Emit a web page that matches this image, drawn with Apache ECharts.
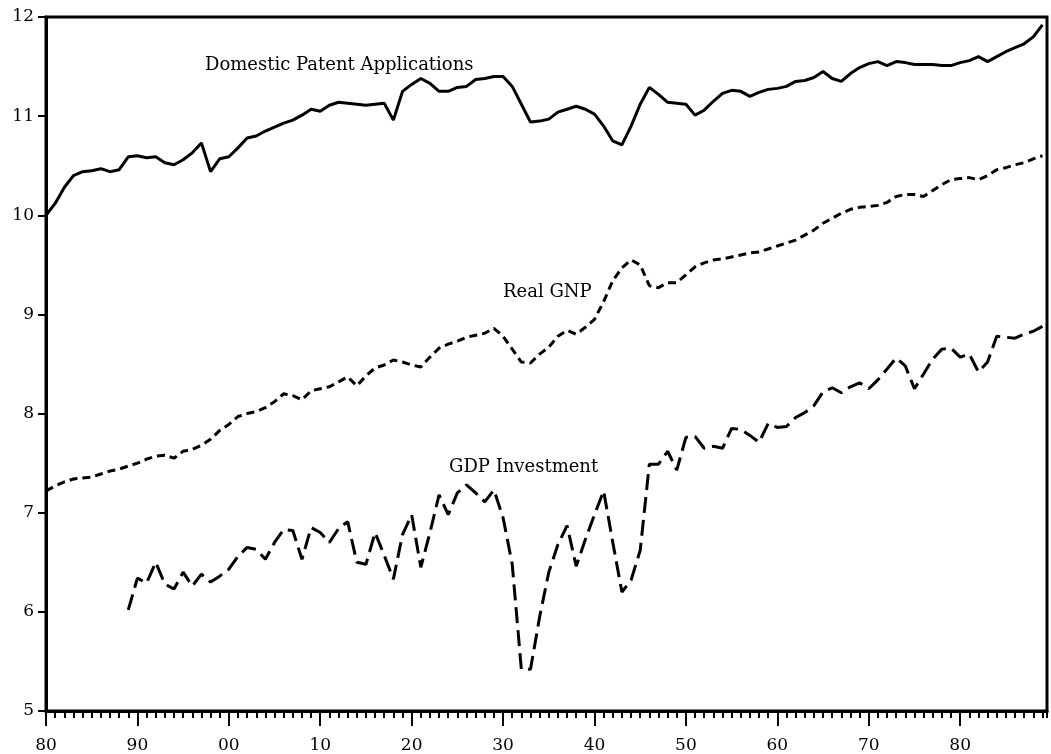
<!DOCTYPE html>
<html>
<head>
<meta charset="utf-8">
<script src="https://cdn.jsdelivr.net/npm/echarts@6/dist/echarts.min.js"></script>
<style>
  html, body { margin: 0; padding: 0; background: #fff; }
  #chart { width: 1051px; height: 754px; }
</style>
</head>
<body>
<div id="chart"></div>
<script>
// years 1880..1989
var years = [];
for (var y = 1880; y <= 1989; y++) years.push(y);

// log domestic patent applications, 1880-1989
var patents = [
  10.00, 10.12, 10.28, 10.40, 10.44, 10.45, 10.47, 10.44, 10.46, 10.59,
  10.60, 10.58, 10.59, 10.53, 10.51, 10.56, 10.63, 10.73, 10.44, 10.57,
  10.59, 10.68, 10.78, 10.80, 10.85, 10.89, 10.93, 10.96, 11.01, 11.07,
  11.05, 11.11, 11.14, 11.13, 11.12, 11.11, 11.12, 11.13, 10.96, 11.25,
  11.32, 11.38, 11.33, 11.25, 11.25, 11.29, 11.30, 11.37, 11.38, 11.40,
  11.40, 11.30, 11.12, 10.94, 10.95, 10.97, 11.04, 11.07, 11.10, 11.07,
  11.02, 10.90, 10.75, 10.71, 10.90, 11.12, 11.29, 11.22, 11.14, 11.13,
  11.12, 11.01, 11.06, 11.15, 11.23, 11.26, 11.25, 11.20, 11.24, 11.27,
  11.28, 11.30, 11.35, 11.36, 11.39, 11.45, 11.38, 11.35, 11.43, 11.49,
  11.53, 11.55, 11.51, 11.55, 11.54, 11.52, 11.52, 11.52, 11.51, 11.51,
  11.54, 11.56, 11.60, 11.55, 11.60, 11.65, 11.69, 11.73, 11.80, 11.92
];

// log real GNP, 1880-1989
var realGnp = [
  7.22, 7.27, 7.31, 7.34, 7.35, 7.36, 7.39, 7.42, 7.44, 7.47,
  7.50, 7.54, 7.57, 7.58, 7.55, 7.62, 7.64, 7.68, 7.74, 7.83,
  7.89, 7.97, 8.00, 8.02, 8.06, 8.12, 8.20, 8.18, 8.14, 8.23,
  8.25, 8.27, 8.32, 8.37, 8.28, 8.38, 8.46, 8.49, 8.54, 8.52,
  8.49, 8.47, 8.57, 8.66, 8.70, 8.73, 8.77, 8.79, 8.81, 8.86,
  8.78, 8.65, 8.52, 8.51, 8.60, 8.67, 8.78, 8.84, 8.80, 8.87,
  8.95, 9.13, 9.34, 9.47, 9.55, 9.50, 9.29, 9.27, 9.32, 9.32,
  9.40, 9.48, 9.52, 9.55, 9.56, 9.58, 9.60, 9.62, 9.63, 9.66,
  9.69, 9.72, 9.75, 9.80, 9.85, 9.92, 9.97, 10.02, 10.06, 10.08,
  10.09, 10.10, 10.13, 10.19, 10.21, 10.21, 10.19, 10.25, 10.31, 10.36,
  10.37, 10.38, 10.36, 10.40, 10.46, 10.48, 10.51, 10.53, 10.57, 10.60
];

// log GDP investment, 1889-1989 (null before)
var investment = [
  null, null, null, null, null, null, null, null, null, 6.02,
  6.34, 6.29, 6.50, 6.28, 6.23, 6.40, 6.26, 6.38, 6.30, 6.36,
  6.43, 6.56, 6.65, 6.63, 6.53, 6.70, 6.83, 6.82, 6.53, 6.85,
  6.80, 6.70, 6.84, 6.91, 6.50, 6.48, 6.80, 6.57, 6.33, 6.78,
  6.98, 6.45, 6.80, 7.18, 6.98, 7.20, 7.28, 7.20, 7.11, 7.23,
  6.95, 6.48, 5.42, 5.42, 5.95, 6.40, 6.68, 6.87, 6.46, 6.73,
  6.98, 7.22, 6.70, 6.20, 6.32, 6.62, 7.49, 7.49, 7.62, 7.43,
  7.76, 7.77, 7.65, 7.67, 7.65, 7.85, 7.84, 7.78, 7.71, 7.90,
  7.86, 7.87, 7.96, 8.01, 8.08, 8.22, 8.26, 8.21, 8.27, 8.31,
  8.25, 8.34, 8.45, 8.56, 8.48, 8.25, 8.40, 8.55, 8.65, 8.66,
  8.57, 8.60, 8.42, 8.52, 8.78, 8.77, 8.76, 8.80, 8.83, 8.88
];

var yTicks = [5, 6, 7, 8, 9, 10, 11, 12];

function pairs(vals) {
  return years.map(function (yr, i) { return [yr, vals[i]]; });
}

var font = 'DejaVu Serif';
var chart = echarts.init(document.getElementById('chart'));

var option = {
  backgroundColor: '#fff',
  animation: false,
  grid: {
    left: 46, right: 4, top: 17, bottom: 43,
    show: true, borderColor: '#000', borderWidth: 3
  },
  xAxis: [
    {
      type: 'value', position: 'bottom', min: 1880, max: 1989.5, interval: 10,
      axisLine: { show: true, lineStyle: { color: '#000', width: 3 } },
      axisTick: { show: true, length: 15, lineStyle: { color: '#000', width: 2 } },
      splitLine: { show: false },
      axisLabel: {
        color: '#000', fontFamily: font, fontSize: 17, margin: 26,
        showMaxLabel: false,
        formatter: function (v) {
          if (v % 10 !== 0) return '';
          var s = String(v % 100);
          return s.length < 2 ? '0' + s : s;
        }
      }
    },
    {
      type: 'value', position: 'bottom', offset: 0, min: 1880, max: 1989.5, interval: 1,
      axisLine: { show: false },
      axisTick: { show: true, length: 7, lineStyle: { color: '#000', width: 2 } },
      splitLine: { show: false },
      axisLabel: { show: false }
    }
  ],
  yAxis: {
    type: 'value', min: yTicks[0], max: yTicks[yTicks.length - 1], interval: 1,
    axisLine: { show: true, lineStyle: { color: '#000', width: 3 } },
    axisTick: { show: true, length: 8, lineStyle: { color: '#000', width: 2 } },
    splitLine: { show: false },
    axisLabel: { color: '#000', fontFamily: font, fontSize: 17, margin: 12 }
  },
  series: [
    {
      name: 'Domestic Patent Applications', type: 'line', data: pairs(patents),
      showSymbol: false, lineStyle: { color: '#000', width: 3 }
    },
    {
      name: 'Real GNP', type: 'line', data: pairs(realGnp),
      showSymbol: false, lineStyle: { color: '#000', width: 3, type: [8, 5] }
    },
    {
      name: 'GDP Investment', type: 'line', data: pairs(investment),
      showSymbol: false, connectNulls: false,
      lineStyle: { color: '#000', width: 3, type: [16, 7] }
    }
  ],
  graphic: [
    { type: 'text', x: 205, y: 65, style: { text: 'Domestic Patent Applications', font: '18px "DejaVu Serif"', fill: '#000', verticalAlign: 'middle' } },
    { type: 'text', x: 503, y: 292, style: { text: 'Real GNP', font: '18px "DejaVu Serif"', fill: '#000', verticalAlign: 'middle' } },
    { type: 'text', x: 449, y: 467, style: { text: 'GDP Investment', font: '18px "DejaVu Serif"', fill: '#000', verticalAlign: 'middle' } }
  ]
};

chart.setOption(option);
</script>
</body>
</html>
